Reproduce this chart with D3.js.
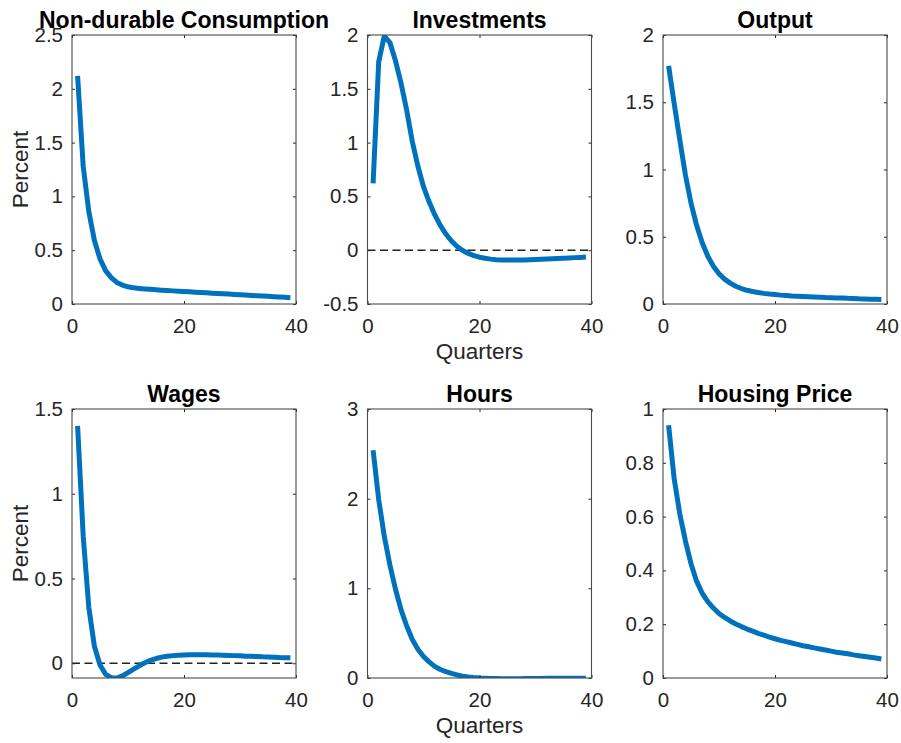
<!DOCTYPE html>
<html>
<head>
<meta charset="utf-8">
<script src="https://cdn.jsdelivr.net/npm/d3@7"></script>
<style>
  body { margin: 0; background: #ffffff; }
  svg text { font-family: Arial, "Liberation Sans", Helvetica, sans-serif; }
</style>
</head>
<body>
<svg id="chart" width="901" height="743"></svg>
<script>
// Impulse responses, horizon in quarters
const quarters = [1,2,3,4,5,6,7,8,9,10,11,12,13,14,15,16,17,18,19,20,
                  21,22,23,24,25,26,27,28,29,30,31,32,33,34,35,36,37,38,39];

const consumption = [2.12,1.28,0.86,0.59,0.42,0.31,0.245,0.20,0.176,0.16,
                     0.15,0.145,0.14,0.136,0.132,0.128,0.125,0.122,0.119,0.116,
                     0.113,0.110,0.107,0.104,0.101,0.098,0.095,0.092,0.089,0.086,
                     0.083,0.080,0.077,0.074,0.071,0.068,0.065,0.062,0.059];

const investments = [0.62,1.75,1.99,1.93,1.76,1.55,1.30,1.01,0.78,0.59,
                     0.45,0.33,0.23,0.15,0.085,0.035,-0.003,-0.03,-0.05,-0.065,
                     -0.075,-0.083,-0.088,-0.09,-0.092,-0.092,-0.091,-0.09,-0.088,-0.086,
                     -0.084,-0.082,-0.079,-0.077,-0.074,-0.072,-0.069,-0.067,-0.064];

const output = [1.77,1.49,1.22,0.96,0.75,0.585,0.455,0.355,0.28,0.225,
                0.185,0.155,0.132,0.115,0.102,0.093,0.085,0.079,0.074,0.07,
                0.066,0.063,0.06,0.058,0.056,0.054,0.052,0.05,0.048,0.047,
                0.045,0.044,0.042,0.041,0.039,0.038,0.036,0.035,0.034];

const wages = [1.40,0.75,0.33,0.10,-0.01,-0.065,-0.085,-0.087,-0.075,-0.055,
               -0.035,-0.015,0.003,0.017,0.028,0.036,0.041,0.045,0.047,0.049,
               0.05,0.05,0.05,0.05,0.049,0.048,0.047,0.046,0.045,0.044,
               0.042,0.041,0.04,0.038,0.037,0.036,0.034,0.033,0.032];

const hours = [2.54,1.99,1.58,1.26,0.99,0.76,0.58,0.43,0.32,0.24,
               0.18,0.13,0.095,0.072,0.052,0.034,0.021,0.012,0.005,0.0,
               -0.003,-0.005,-0.006,-0.007,-0.007,-0.007,-0.007,-0.006,-0.006,-0.005,
               -0.005,-0.004,-0.004,-0.003,-0.003,-0.003,-0.002,-0.002,-0.002];

const housingPrice = [0.94,0.74,0.61,0.51,0.425,0.36,0.315,0.284,0.26,0.24,
                      0.225,0.212,0.201,0.191,0.182,0.174,0.166,0.159,0.152,0.146,
                      0.14,0.135,0.13,0.125,0.12,0.116,0.112,0.108,0.104,0.1,
                      0.096,0.093,0.09,0.086,0.083,0.08,0.077,0.074,0.071];

const titles = ["Non-durable Consumption", "Investments", "Output",
                "Wages", "Hours", "Housing Price"];
const seriesList = [consumption, investments, output, wages, hours, housingPrice];
const yTickLists = [
  [0, 0.5, 1, 1.5, 2, 2.5],
  [-0.5, 0, 0.5, 1, 1.5, 2],
  [0, 0.5, 1, 1.5, 2],
  [0, 0.5, 1, 1.5],
  [0, 1, 2, 3],
  [0, 0.2, 0.4, 0.6, 0.8, 1]
];
const yDomains = [
  [0, 2.5], [-0.5, 2], [0, 2],
  [d3.min(wages), 1.5], [0, 3], [0, 1]
];
const xTicks = [0, 20, 40];
const xDomain = [0, 40];
const showZeroLine = [false, true, false, true, false, false];
const yLabelText = "Percent";
const xLabelText = "Quarters";

// Layout of the 2x3 grid
const colLeft = [72, 367.5, 663];
const rowTop = [35, 409];
const plotW = 224, plotH = 269;

const svg = d3.select("#chart");
const fmt = v => String(+v.toFixed(2));
const axisColor = "#262626";
const lineColor = "#0072BD";

seriesList.forEach((values, i) => {
  const col = i % 3, row = Math.floor(i / 3);
  const g = svg.append("g")
    .attr("transform", `translate(${colLeft[col]},${rowTop[row]})`);

  const x = d3.scaleLinear().domain(xDomain).range([0, plotW]);
  const y = d3.scaleLinear().domain(yDomains[i]).range([plotH, 0]);

  const clipId = "clip" + i;
  g.append("clipPath").attr("id", clipId)
    .append("rect").attr("width", plotW).attr("height", plotH);

  const plot = g.append("g").attr("clip-path", `url(#${clipId})`);

  if (showZeroLine[i]) {
    plot.append("line")
      .attr("x1", x(xDomain[0])).attr("x2", x(xDomain[1]))
      .attr("y1", y(0)).attr("y2", y(0))
      .attr("stroke", "#222")
      .attr("stroke-width", 1.6)
      .attr("stroke-dasharray", "8,4.5");
  }

  const line = d3.line()
    .x((d, k) => x(quarters[k]))
    .y(d => y(d));

  plot.append("path")
    .datum(values)
    .attr("d", line)
    .attr("fill", "none")
    .attr("stroke", lineColor)
    .attr("stroke-width", 5)
    .attr("stroke-linejoin", "round")
    .attr("stroke-linecap", "butt");

  // Axes with inward ticks on all four sides
  const styleAxis = sel => {
    sel.select(".domain").remove();
    sel.selectAll(".tick line").attr("stroke", axisColor);
    sel.selectAll(".tick text")
      .attr("fill", axisColor)
      .style("font-size", "20.5px");
  };

  g.append("g")
    .call(d3.axisLeft(y).tickValues(yTickLists[i]).tickFormat(fmt)
      .tickSizeInner(-3).tickSizeOuter(0).tickPadding(9))
    .call(styleAxis);

  g.append("g").attr("transform", `translate(${plotW},0)`)
    .call(d3.axisRight(y).tickValues(yTickLists[i]).tickFormat("")
      .tickSizeInner(-3).tickSizeOuter(0))
    .call(styleAxis);

  g.append("g").attr("transform", `translate(0,${plotH})`)
    .call(d3.axisBottom(x).tickValues(xTicks).tickFormat(fmt)
      .tickSizeInner(-3).tickSizeOuter(0).tickPadding(14))
    .call(styleAxis);

  g.append("g")
    .call(d3.axisTop(x).tickValues(xTicks).tickFormat("")
      .tickSizeInner(-3).tickSizeOuter(0))
    .call(styleAxis);

  g.append("rect")
    .attr("width", plotW).attr("height", plotH)
    .attr("fill", "none")
    .attr("stroke", "#4a4a4a")
    .attr("stroke-width", 1.1);

  g.append("text")
    .attr("x", plotW / 2).attr("y", -7)
    .attr("text-anchor", "middle")
    .attr("fill", "#000")
    .style("font-size", "23px")
    .style("font-weight", "bold")
    .text(titles[i]);

  if (col === 0) {
    g.append("text")
      .attr("transform", `translate(${28 - colLeft[col]},${plotH / 2}) rotate(-90)`)
      .attr("text-anchor", "middle")
      .attr("fill", axisColor)
      .style("font-size", "22.5px")
      .text(yLabelText);
  }
  if (col === 1) {
    g.append("text")
      .attr("x", plotW / 2).attr("y", plotH + 55)
      .attr("text-anchor", "middle")
      .attr("fill", axisColor)
      .style("font-size", "22.5px")
      .text(xLabelText);
  }
});
</script>
</body>
</html>
